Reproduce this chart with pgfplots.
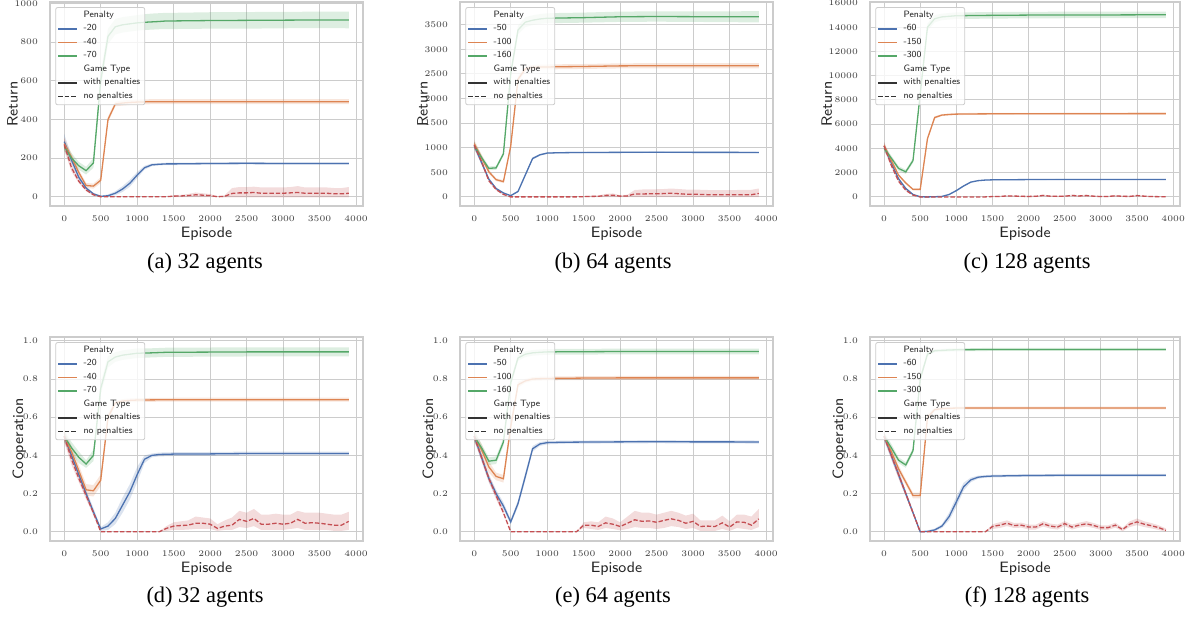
\documentclass[border=0pt]{standalone}
\usepackage{fontspec}
\usepackage{pgfplots}
\usepackage{pgfplotstable}
\pgfplotsset{compat=1.18}
\usepgfplotslibrary{fillbetween}
\newfontfamily\capfont{Liberation Serif}
\definecolor{sbblue}{HTML}{4C72B0}
\definecolor{sborange}{HTML}{DD8452}
\definecolor{sbgreen}{HTML}{55A868}
\definecolor{sbred}{HTML}{C44E52}
\definecolor{gridc}{HTML}{CCCCCC}
\definecolor{tickc}{HTML}{3A3A3A}
\definecolor{labc}{HTML}{262626}
\definecolor{legc}{HTML}{333333}

% ---------- Panel A: Return, 32 agents ----------
\pgfplotstableread{
x m lo hi
0 285 245 325
100 190 170 210
200 100 88 112
300 45 38 52
400 15 10 20
500 2 0 5
600 5 0 12
700 18 8 28
800 40 25 55
900 70 52 88
1000 112 96 128
1100 150 140 160
1200 165 158 172
1300 168 162 174
1400 170 164 176
1500 170 164 176
2000 172 166 178
2500 173 167 179
3000 172 166 178
3500 172 166 178
3900 172 166 178
}\tAb
\pgfplotstableread{
x m lo hi
0 275 245 305
100 205 185 225
200 125 110 140
300 58 45 71
400 55 42 68
500 85 70 100
600 400 385 415
700 480 468 492
800 485 472 498
900 488 475 501
1000 490 477 503
1100 491 478 504
1200 492 479 505
1500 492 479 505
2000 492 479 505
2500 492 479 505
3000 492 479 505
3500 492 479 505
3900 492 479 505
}\tAo
\pgfplotstableread{
x m lo hi
0 260 235 285
100 200 175 225
200 160 140 180
300 135 115 155
400 175 150 200
500 600 560 640
600 830 790 870
700 880 840 920
800 890 850 930
900 895 855 935
1000 900 860 940
1100 903 863 945
1200 905 865 948
1300 907 867 950
1400 910 868 952
1500 910 868 952
2000 912 870 955
2500 913 870 956
3000 914 872 957
3500 915 873 958
3900 915 872 958
}\tAg
\pgfplotstableread{
x m lo hi
0 270 240 300
100 150 130 170
200 80 70 90
300 35 28 42
400 10 5 15
500 0 0 0
1400 0 0 0
1500 3 -2 8
1600 4 -2 10
1700 6 -2 14
1800 10 -2 22
1900 8 -2 18
2000 6 -2 14
2100 0 -2 2
2200 2 -3 8
2300 17 -3 45
2400 20 -3 50
2500 20 -3 50
2600 22 -3 52
2700 18 -3 48
2800 18 -3 48
2900 18 -3 48
3000 18 -3 48
3100 20 -3 50
3200 22 -3 55
3300 18 -3 48
3400 18 -3 48
3500 18 -3 48
3600 18 -3 48
3700 15 -3 45
3800 15 -3 45
3900 18 -3 50
}\tAr

% ---------- Panel B: Return, 64 agents ----------
\pgfplotstableread{
x m lo hi
0 1050 980 1120
100 700 650 750
200 360 330 390
300 170 150 190
400 80 65 95
500 25 15 35
600 110 90 130
700 445 415 475
800 780 755 805
900 855 835 875
1000 890 872 908
1100 895 880 910
1200 898 883 913
1300 900 885 915
1500 902 887 917
2000 905 890 920
2500 908 893 923
3000 905 890 920
3500 905 890 920
3900 902 887 917
}\tBb
\pgfplotstableread{
x m lo hi
0 1080 1000 1160
100 800 740 860
200 510 470 550
300 350 320 380
400 310 280 340
500 1030 980 1080
600 2390 2330 2450
700 2600 2550 2650
800 2630 2580 2680
900 2640 2590 2690
1000 2640 2590 2690
1200 2645 2595 2695
1500 2650 2600 2700
2000 2662 2610 2714
2500 2665 2612 2718
3000 2665 2612 2718
3500 2665 2612 2718
3900 2665 2612 2718
}\tBo
\pgfplotstableread{
x m lo hi
0 1040 960 1120
100 800 740 860
200 580 540 620
300 590 550 630
400 875 830 920
500 2500 2400 2600
600 3390 3300 3480
700 3550 3450 3650
800 3590 3490 3690
900 3615 3515 3715
1000 3630 3530 3730
1200 3635 3533 3738
1500 3642 3540 3745
2000 3660 3555 3765
2500 3665 3560 3770
3000 3662 3555 3768
3500 3660 3550 3770
3900 3660 3545 3775
}\tBg
\pgfplotstableread{
x m lo hi
0 1050 980 1120
100 720 670 770
200 330 300 360
300 150 130 170
400 50 40 60
500 0 0 0
1400 0 0 0
1500 5 -5 15
1600 10 -5 25
1700 12 -5 30
1800 30 -5 60
1900 35 -5 70
2000 15 -5 35
2100 20 -5 45
2200 60 -5 140
2300 60 -5 150
2400 62 -5 155
2500 62 -5 155
2600 68 -5 160
2700 75 -5 170
2800 65 -5 160
2900 55 -5 150
3000 55 -5 150
3100 50 -5 145
3200 45 -5 140
3300 45 -5 140
3400 45 -5 140
3500 42 -5 140
3600 42 -5 140
3700 45 -5 145
3800 45 -5 145
3900 70 -5 170
}\tBr

% ---------- Panel C: Return, 128 agents ----------
\pgfplotstableread{
x m lo hi
0 4200 3900 4500
100 2800 2650 2950
200 1500 1400 1600
300 700 640 760
400 200 170 230
500 10 0 20
600 0 0 5
700 15 5 25
800 40 25 55
900 200 150 250
1000 520 450 590
1100 900 830 970
1200 1220 1160 1280
1300 1340 1290 1390
1400 1390 1345 1435
1500 1410 1370 1450
2000 1430 1390 1470
2500 1440 1400 1480
3000 1440 1400 1480
3500 1440 1400 1480
3900 1440 1400 1480
}\tCb
\pgfplotstableread{
x m lo hi
0 4250 3950 4550
100 3000 2850 3150
200 1800 1700 1900
300 1150 1070 1230
400 620 560 680
500 620 560 680
600 4800 4650 4950
700 6550 6450 6650
800 6750 6670 6830
900 6800 6720 6880
1000 6830 6750 6910
1200 6845 6765 6925
1500 6855 6775 6935
2000 6860 6780 6940
2500 6865 6785 6945
3000 6865 6785 6945
3500 6870 6790 6950
3900 6870 6790 6950
}\tCo
\pgfplotstableread{
x m lo hi
0 4000 3700 4300
100 3200 3000 3400
200 2350 2150 2550
300 2070 1900 2240
400 3000 2800 3200
500 8500 8200 8800
600 14000 13700 14300
700 14700 14400 15000
800 14850 14580 15120
900 14900 14630 15170
1000 14950 14680 15220
1200 14960 14690 15230
1500 14980 14710 15250
2000 15000 14730 15270
2500 15010 14740 15280
3000 15010 14740 15280
3500 15020 14750 15290
3900 15020 14750 15290
}\tCg
\pgfplotstableread{
x m lo hi
0 4200 3900 4500
100 2600 2450 2750
200 1300 1200 1400
300 550 490 610
400 150 120 180
500 0 0 0
1400 0 0 0
1500 30 -10 70
1600 40 -10 90
1700 80 20 140
1800 70 10 130
1900 50 -10 110
2000 40 -10 100
2100 50 -10 110
2200 120 50 190
2300 60 0 120
2400 50 -10 110
2500 60 0 120
2600 120 50 190
2700 80 20 140
2800 110 40 180
2900 60 0 120
3000 30 -10 80
3100 40 -10 90
3200 90 20 160
3300 50 -10 110
3400 40 -10 100
3500 110 40 180
3600 60 0 120
3700 30 -10 80
3800 20 -10 60
3900 10 -10 40
}\tCr

% ---------- Panel D: Cooperation, 32 agents ----------
\pgfplotstableread{
x m lo hi
0 0.50 0.48 0.52
100 0.40 0.38 0.42
200 0.30 0.28 0.32
300 0.20 0.18 0.22
400 0.105 0.085 0.125
500 0.015 0.005 0.025
600 0.03 0.01 0.05
700 0.07 0.04 0.10
800 0.14 0.10 0.18
900 0.21 0.17 0.25
1000 0.30 0.26 0.34
1100 0.38 0.36 0.40
1200 0.40 0.39 0.41
1300 0.405 0.395 0.415
1500 0.407 0.397 0.417
2000 0.408 0.398 0.418
2500 0.41 0.40 0.42
3000 0.41 0.40 0.42
3500 0.41 0.40 0.42
3900 0.41 0.40 0.42
}\tDb
\pgfplotstableread{
x m lo hi
0 0.50 0.47 0.53
100 0.42 0.39 0.45
200 0.32 0.29 0.35
300 0.22 0.19 0.25
400 0.215 0.185 0.245
500 0.27 0.24 0.30
600 0.60 0.58 0.62
700 0.675 0.665 0.685
800 0.685 0.675 0.695
900 0.688 0.678 0.698
1000 0.69 0.68 0.70
1500 0.692 0.682 0.702
2000 0.692 0.682 0.702
2500 0.692 0.682 0.702
3000 0.692 0.682 0.702
3500 0.692 0.682 0.702
3900 0.692 0.682 0.702
}\tDo
\pgfplotstableread{
x m lo hi
0 0.50 0.47 0.53
100 0.44 0.41 0.47
200 0.39 0.36 0.42
300 0.355 0.335 0.375
400 0.40 0.37 0.43
500 0.75 0.72 0.78
600 0.89 0.86 0.92
700 0.915 0.89 0.94
800 0.925 0.90 0.95
900 0.93 0.905 0.955
1000 0.935 0.91 0.96
1200 0.937 0.913 0.961
1400 0.94 0.916 0.964
2000 0.941 0.917 0.965
2500 0.942 0.918 0.966
3000 0.942 0.918 0.966
3500 0.942 0.918 0.966
3900 0.942 0.918 0.966
}\tDg
\pgfplotstableread{
x m lo hi
0 0.50 0.47 0.53
100 0.38 0.35 0.41
200 0.28 0.26 0.30
300 0.19 0.17 0.21
400 0.10 0.09 0.11
500 0 0 0
1300 0 0 0
1400 0.018 0.005 0.03
1500 0.030 0.01 0.05
1600 0.033 0.01 0.055
1700 0.035 0.012 0.06
1800 0.045 0.015 0.08
1900 0.045 0.015 0.075
2000 0.04 0.015 0.07
2100 0.018 0.005 0.04
2200 0.03 0.01 0.06
2300 0.035 0.01 0.075
2400 0.065 0.025 0.11
2500 0.055 0.02 0.10
2600 0.07 0.03 0.12
2700 0.04 0.01 0.09
2800 0.04 0.01 0.09
2900 0.045 0.01 0.095
3000 0.04 0.01 0.09
3100 0.045 0.015 0.09
3200 0.065 0.02 0.11
3300 0.045 0.01 0.10
3400 0.048 0.01 0.10
3500 0.045 0.01 0.10
3600 0.04 0.01 0.095
3700 0.035 0.005 0.09
3800 0.035 0.005 0.09
3900 0.055 0.01 0.105
}\tDr

% ---------- Panel E: Cooperation, 64 agents ----------
\pgfplotstableread{
x m lo hi
0 0.50 0.48 0.52
100 0.39 0.37 0.41
200 0.28 0.26 0.30
300 0.20 0.18 0.22
400 0.135 0.115 0.155
500 0.052 0.04 0.065
600 0.148 0.13 0.165
700 0.29 0.27 0.31
800 0.435 0.42 0.45
900 0.46 0.45 0.47
1000 0.467 0.458 0.476
1200 0.469 0.461 0.477
1500 0.47 0.462 0.478
2000 0.471 0.463 0.479
2500 0.472 0.464 0.48
3000 0.471 0.463 0.479
3500 0.471 0.463 0.479
3900 0.47 0.462 0.478
}\tEb
\pgfplotstableread{
x m lo hi
0 0.50 0.47 0.53
100 0.43 0.40 0.46
200 0.34 0.31 0.37
300 0.29 0.27 0.31
400 0.278 0.258 0.298
500 0.55 0.52 0.58
600 0.77 0.755 0.785
700 0.79 0.78 0.80
800 0.80 0.79 0.81
900 0.802 0.792 0.812
1000 0.803 0.793 0.813
1500 0.805 0.795 0.815
2000 0.806 0.796 0.816
2500 0.806 0.796 0.816
3000 0.806 0.796 0.816
3500 0.806 0.796 0.816
3900 0.806 0.796 0.816
}\tEo
\pgfplotstableread{
x m lo hi
0 0.50 0.47 0.53
100 0.44 0.42 0.46
200 0.37 0.35 0.39
300 0.375 0.355 0.395
400 0.47 0.45 0.49
500 0.78 0.76 0.80
600 0.91 0.895 0.925
700 0.93 0.915 0.945
800 0.937 0.922 0.952
900 0.94 0.925 0.955
1000 0.942 0.927 0.957
1500 0.943 0.928 0.958
2000 0.944 0.929 0.959
2500 0.944 0.929 0.959
3000 0.944 0.929 0.959
3500 0.944 0.929 0.959
3900 0.944 0.929 0.959
}\tEg
\pgfplotstableread{
x m lo hi
0 0.50 0.48 0.52
100 0.39 0.37 0.41
200 0.28 0.26 0.30
300 0.19 0.17 0.21
400 0.10 0.09 0.11
500 0 0 0
1400 0 0 0
1500 0.035 0.02 0.05
1600 0.035 0.015 0.055
1700 0.028 0.01 0.05
1800 0.047 0.02 0.08
1900 0.04 0.015 0.07
2000 0.028 0.008 0.05
2100 0.045 0.015 0.08
2200 0.063 0.025 0.11
2300 0.055 0.02 0.10
2400 0.057 0.02 0.10
2500 0.05 0.015 0.09
2600 0.06 0.02 0.10
2700 0.068 0.03 0.11
2800 0.06 0.025 0.10
2900 0.045 0.015 0.085
3000 0.055 0.02 0.095
3100 0.028 0.005 0.06
3200 0.03 0.005 0.06
3300 0.028 0.005 0.06
3400 0.047 0.015 0.085
3500 0.025 0.005 0.055
3600 0.052 0.02 0.09
3700 0.05 0.015 0.09
3800 0.035 0.01 0.08
3900 0.068 0.025 0.12
}\tEr

% ---------- Panel F: Cooperation, 128 agents ----------
\pgfplotstableread{
x m lo hi
0 0.50 0.48 0.52
100 0.40 0.38 0.42
200 0.30 0.28 0.32
300 0.20 0.185 0.215
400 0.10 0.09 0.11
500 0.0 0 0.005
600 0.002 0 0.008
700 0.01 0.003 0.017
800 0.03 0.02 0.04
900 0.08 0.06 0.10
1000 0.157 0.13 0.185
1100 0.236 0.215 0.257
1200 0.272 0.26 0.284
1300 0.286 0.278 0.294
1400 0.29 0.283 0.297
1500 0.292 0.285 0.299
2000 0.295 0.288 0.302
2500 0.296 0.289 0.303
3000 0.296 0.289 0.303
3500 0.296 0.289 0.303
3900 0.296 0.289 0.303
}\tFb
\pgfplotstableread{
x m lo hi
0 0.50 0.48 0.52
100 0.42 0.40 0.44
200 0.33 0.31 0.35
300 0.26 0.245 0.275
400 0.19 0.175 0.205
500 0.19 0.175 0.205
600 0.60 0.585 0.615
700 0.64 0.632 0.648
800 0.645 0.638 0.652
900 0.647 0.64 0.654
1000 0.648 0.641 0.655
1500 0.648 0.641 0.655
2000 0.648 0.641 0.655
2500 0.648 0.641 0.655
3000 0.648 0.641 0.655
3500 0.648 0.641 0.655
3900 0.648 0.641 0.655
}\tFo
\pgfplotstableread{
x m lo hi
0 0.50 0.48 0.52
100 0.44 0.42 0.46
200 0.375 0.36 0.39
300 0.35 0.335 0.365
400 0.425 0.41 0.44
500 0.80 0.78 0.82
600 0.93 0.92 0.94
700 0.948 0.94 0.956
800 0.95 0.942 0.958
900 0.952 0.944 0.96
1000 0.953 0.945 0.961
1500 0.955 0.947 0.963
2000 0.955 0.947 0.963
2500 0.955 0.947 0.963
3000 0.955 0.947 0.963
3500 0.955 0.947 0.963
3900 0.955 0.947 0.963
}\tFg
\pgfplotstableread{
x m lo hi
0 0.50 0.48 0.52
100 0.40 0.38 0.42
200 0.30 0.28 0.32
300 0.20 0.185 0.215
400 0.10 0.09 0.11
500 0 0 0
1400 0 0 0
1500 0.028 0.015 0.04
1600 0.035 0.02 0.05
1700 0.045 0.03 0.06
1800 0.033 0.02 0.046
1900 0.035 0.022 0.048
2000 0.025 0.012 0.038
2100 0.025 0.012 0.038
2200 0.042 0.028 0.056
2300 0.03 0.017 0.043
2400 0.025 0.012 0.038
2500 0.043 0.03 0.056
2600 0.025 0.012 0.038
2700 0.035 0.022 0.048
2800 0.042 0.028 0.056
2900 0.033 0.02 0.046
3000 0.022 0.01 0.034
3100 0.022 0.01 0.034
3200 0.035 0.022 0.048
3300 0.012 0.003 0.022
3400 0.04 0.025 0.055
3500 0.052 0.035 0.07
3600 0.04 0.025 0.055
3700 0.032 0.018 0.046
3800 0.022 0.01 0.034
3900 0.008 0.0 0.018
}\tFr

\pgfplotsset{
  legend image code/.code={\draw[line width=0.65pt, #1] (0pt,0pt) -- (9.5pt,0pt);},
  sbaxis/.style={
    scale only axis, height=102pt,
    xmin=-195, xmax=4095,
    xtick={0,500,1000,1500,2000,2500,3000,3500,4000},
    grid=major,
    major grid style={line width=0.5pt, draw=gridc},
    axis line style={line width=0.8pt, draw=gridc},
    major tick length=0pt,
    tick style={draw=none},
    /pgf/number format/assume math mode=true,
    tick label style={font=\fontsize{4.3}{5}\selectfont, text=tickc},
    xticklabel style={yshift=-1.5pt},
    yticklabel style={xshift=-2.5pt},
    scaled ticks=false,
    /pgf/number format/1000 sep={},
    xlabel={Episode},
    label style={font=\sffamily\fontsize{7.5}{8.5}\selectfont, text=labc},
    xlabel style={yshift=4.5pt},
    ylabel shift=-8.5pt,
    legend cell align=left,
    legend style={at={(0.017,0.975)}, anchor=north west, draw=gridc, line width=0.4pt,
      fill=white, fill opacity=0.8, text opacity=1, rounded corners=1pt,
      font=\sffamily\fontsize{4.6}{5.2}\selectfont, text=labc,
      inner xsep=1pt, inner ysep=1.2pt, row sep=1.1pt, column sep=1.5pt,
      nodes={inner xsep=1.3pt, inner ysep=0.5pt}},
  },
  retaxis/.style={sbaxis, ylabel={Return}},
  coopaxis/.style={sbaxis, ylabel={Cooperation}, ymin=-0.048, ymax=1.02,
    ytick={0,0.2,0.4,0.6,0.8,1},
    yticklabel style={/pgf/number format/fixed, /pgf/number format/fixed zerofill,
      /pgf/number format/precision=1}},
}

% #1 table, #2 colour, #3 unique name, #4 extra line style
\newcommand\series[4]{%
  \addplot[name path=#3l, draw=none, forget plot] table[x=x,y=lo] {#1};
  \addplot[name path=#3h, draw=none, forget plot] table[x=x,y=hi] {#1};
  \addplot[fill=#2, fill opacity=0.2, draw=none, forget plot] fill between[of=#3l and #3h];
  \addplot[#2, line width=0.65pt, #4, forget plot] table[x=x,y=m] {#1};
}
\newcommand\legendset[3]{%
  \addlegendimage{empty legend}\addlegendentry{Penalty}
  \addlegendimage{color=sbblue}\addlegendentry{#1}
  \addlegendimage{color=sborange}\addlegendentry{#2}
  \addlegendimage{color=sbgreen}\addlegendentry{#3}
  \addlegendimage{empty legend}\addlegendentry{Game Type}
  \addlegendimage{color=legc}\addlegendentry{with penalties}
  \addlegendimage{color=legc, dash pattern=on 2.2pt off 1pt}\addlegendentry{no penalties}
}
\newcommand\capt[1]{{\capfont\fontsize{11.2}{13}\selectfont #1}}

\begin{document}
\begin{tikzpicture}

% (a)
\begin{axis}[retaxis, at={(25pt,205.5pt)}, anchor=south west, width=156.5pt,
  ymin=-48, ymax=1008, ytick={0,200,400,600,800,1000}]
\series{\tAb}{sbblue}{ab}{}
\series{\tAo}{sborange}{ao}{}
\series{\tAg}{sbgreen}{ag}{}
\series{\tAr}{sbred}{ar}{dash pattern=on 2.2pt off 1pt}
\legendset{-20}{-40}{-70}
\end{axis}

% (b)
\begin{axis}[retaxis, at={(230pt,205.5pt)}, anchor=south west, width=156.5pt,
  ymin=-185, ymax=3960, ytick={0,500,1000,1500,2000,2500,3000,3500}]
\series{\tBb}{sbblue}{bb}{}
\series{\tBo}{sborange}{bo}{}
\series{\tBg}{sbgreen}{bg}{}
\series{\tBr}{sbred}{br}{dash pattern=on 2.2pt off 1pt}
\legendset{-50}{-100}{-160}
\end{axis}

% (c)
\begin{axis}[retaxis, at={(435pt,205.5pt)}, anchor=south west, width=155pt,
  ymin=-750, ymax=16080, ytick={0,2000,4000,6000,8000,10000,12000,14000,16000}]
\series{\tCb}{sbblue}{cb}{}
\series{\tCo}{sborange}{co}{}
\series{\tCg}{sbgreen}{cg}{}
\series{\tCr}{sbred}{cr}{dash pattern=on 2.2pt off 1pt}
\legendset{-60}{-150}{-300}
\end{axis}

% (d)
\begin{axis}[coopaxis, at={(25pt,38pt)}, anchor=south west, width=156.5pt]
\series{\tDb}{sbblue}{db}{}
\series{\tDo}{sborange}{do}{}
\series{\tDg}{sbgreen}{dg}{}
\series{\tDr}{sbred}{dr}{dash pattern=on 2.2pt off 1pt}
\legendset{-20}{-40}{-70}
\end{axis}

% (e)
\begin{axis}[coopaxis, at={(230pt,38pt)}, anchor=south west, width=156.5pt]
\series{\tEb}{sbblue}{eb}{}
\series{\tEo}{sborange}{eo}{}
\series{\tEg}{sbgreen}{eg}{}
\series{\tEr}{sbred}{er}{dash pattern=on 2.2pt off 1pt}
\legendset{-50}{-100}{-160}
\end{axis}

% (f)
\begin{axis}[coopaxis, at={(435pt,38pt)}, anchor=south west, width=155pt]
\series{\tFb}{sbblue}{fb}{}
\series{\tFo}{sborange}{fo}{}
\series{\tFg}{sbgreen}{fg}{}
\series{\tFr}{sbred}{fr}{dash pattern=on 2.2pt off 1pt}
\legendset{-60}{-150}{-300}
\end{axis}

\node at (102.5pt,177pt) {\capt{(a) 32 agents}};
\node at (306.5pt,177pt) {\capt{(b) 64 agents}};
\node at (513.5pt,177pt) {\capt{(c) 128 agents}};
\node at (102.5pt,10pt) {\capt{(d) 32 agents}};
\node at (306.5pt,10pt) {\capt{(e) 64 agents}};
\node at (513.5pt,10pt) {\capt{(f) 128 agents}};

\pgfresetboundingbox
\path[use as bounding box] (0,0) rectangle (594pt,308.5pt);
\end{tikzpicture}
\end{document}
